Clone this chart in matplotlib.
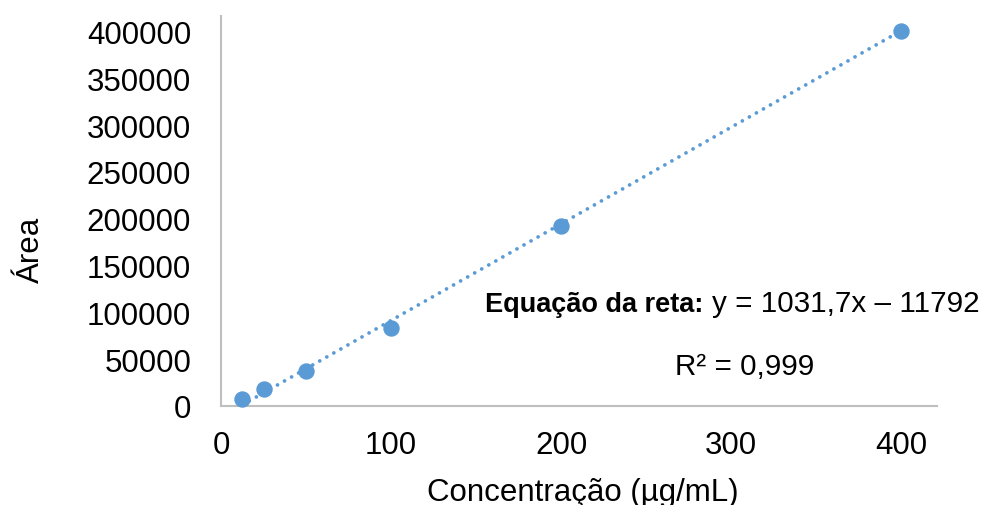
import numpy as np
import matplotlib.pyplot as plt
from matplotlib.ticker import FuncFormatter

plt.rcParams['font.family'] = ['Liberation Sans', 'DejaVu Sans']

# Dados da curva de calibração
conc = [12.5, 25, 50, 100, 200, 400]
area = [7500, 18000, 37700, 83000, 192500, 401000]

# Linha de tendência exibida no gráfico
slope, intercept = 1031.7, -11792

xticks = [0, 100, 200, 300, 400]
yticks = [0, 50000, 100000, 150000, 200000, 250000, 300000, 350000, 400000]

blue = '#5B9BD5'
grey = '#BFBFBF'

fig = plt.figure(figsize=(10.04, 5.06), dpi=100)
ax = fig.add_axes([221 / 1004, 1 - 407 / 506, (937 - 221) / 1004, (407 - 17) / 506])

xt = np.array([conc[0], conc[-1]])
ax.plot(xt, slope * xt + intercept, color=blue, lw=2.7,
        linestyle=(0, (0.01, 2.15)), dash_capstyle='round', zorder=2)
ax.plot(conc, area, 'o', color=blue, markersize=10.8, zorder=3, clip_on=False)

ax.set_xlim(0, 421)
ax.set_ylim(0, 416500)
ax.set_xticks(xticks)
ax.set_yticks(yticks)
ax.yaxis.set_major_formatter(FuncFormatter(lambda v, p: '%d' % v))
ax.tick_params(axis='both', length=0, labelsize=22.5, colors='black')
ax.tick_params(axis='y', pad=21.5)
ax.tick_params(axis='x', pad=17)

for s in ['top', 'right']:
    ax.spines[s].set_visible(False)
for s in ['left', 'bottom']:
    ax.spines[s].set_color(grey)
    ax.spines[s].set_linewidth(1.5)

fig.text(31 / 1004, 1 - 250 / 506, 'Área', rotation=90, fontsize=22.5,
         ha='center', va='center')
fig.text(583 / 1004, 1 - 501 / 506, 'Concentração (µg/mL)', fontsize=22.5,
         ha='center', va='baseline')

fig.text(703 / 1004, 1 - 312 / 506, 'Equação da reta:', fontsize=19.5,
         fontweight='bold', ha='right', va='baseline')
fig.text(712 / 1004, 1 - 312 / 506, 'y = 1031,7x – 11792', fontsize=21.3,
         ha='left', va='baseline')
fig.text(745 / 1004, 1 - 375 / 506, 'R² = 0,999', fontsize=21.3,
         ha='center', va='baseline')

fig.savefig('out.png', dpi=100)
